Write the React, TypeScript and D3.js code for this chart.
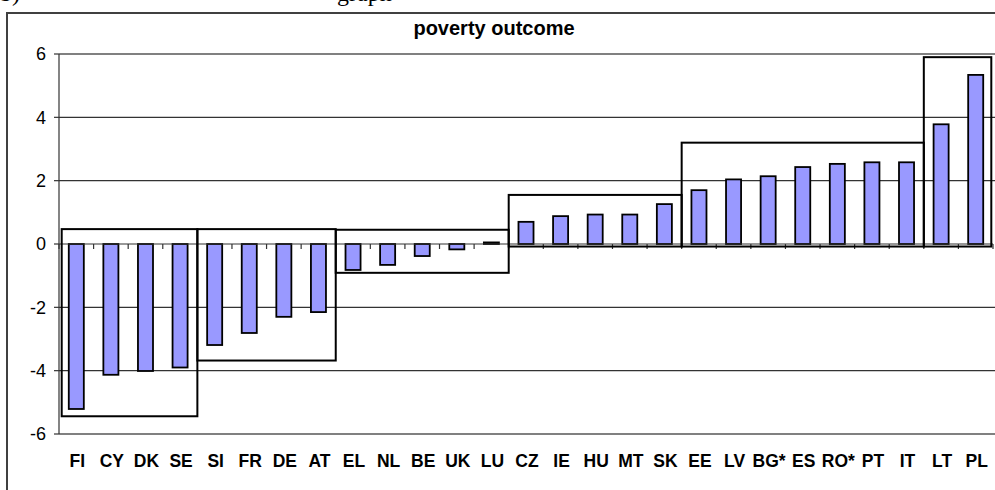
import React from "react";
import * as d3 from "d3";

const categories = ["FI","CY","DK","SE","SI","FR","DE","AT","EL","NL","BE","UK","LU","CZ","IE","HU","MT","SK","EE","LV","BG*","ES","RO*","PT","IT","LT","PL"];
const values = [-5.21,-4.13,-4.01,-3.9,-3.19,-2.81,-2.3,-2.15,-0.82,-0.66,-0.38,-0.17,0.05,0.7,0.88,0.93,0.93,1.26,1.7,2.04,2.14,2.43,2.53,2.58,2.58,3.78,5.34];
const yTicks = [-6,-4,-2,0,2,4,6];
const groupStart = [0,4,8,13,18,25];
const groupEnd = [4,8,13,18,25,27];
const groupTop = [0.47,0.47,0.45,1.55,3.2,5.9];
const groupBottom = [-5.44,-3.68,-0.91,-0.08,-0.08,-0.08];
const title = "poverty outcome";

const W = 995, H = 490;
const plotLeft = 59, plotRight = 993, plotTop = 54, plotBottom = 434;
const FONT = "'Liberation Sans', Arial, sans-serif";
const SERIF = "'Liberation Serif', 'Times New Roman', serif";

export default function App() {
  const x = d3.scaleBand<string>().domain(categories).range([plotLeft, plotRight])
    .paddingInner(1.3 / 2.3).paddingOuter(1.3 / 4.6);
  const y = d3.scaleLinear().domain([-6, 6]).range([plotBottom, plotTop]);
  const step = x.step();
  const boundary = (i: number) => plotLeft + i * step;
  const y0 = y(0);

  return (
    <svg width={W} height={H} style={{ position: "absolute", left: 0, top: 0, background: "#fff" }}>
      {/* document caption text, cropped at the top like the reference */}
      <text x={0} y={1} fontFamily={SERIF} fontSize={24}>b)</text>
      <text x={337} y={1} fontFamily={SERIF} fontSize={24}>graph</text>

      {/* chart frame */}
      <rect x={7} y={13} width={W + 20} height={H + 20} fill="none" stroke="#404040" strokeWidth={2} />

      <text x={494} y={35} textAnchor="middle" fontFamily={FONT} fontWeight="bold" fontSize={20}>{title}</text>

      {/* gridlines */}
      {yTicks.filter(t => t !== 0 && Math.abs(t) !== 6).map(t => (
        <line key={"g" + t} x1={plotLeft} x2={W} y1={y(t)} y2={y(t)} stroke="#333" strokeWidth={1.2} />
      ))}
      {[6, -6].map(t => (
        <line key={"b" + t} x1={plotLeft} x2={W} y1={y(t)} y2={y(t)} stroke="#808080" strokeWidth={1.8} />
      ))}

      {/* y axis */}
      <line x1={plotLeft} x2={plotLeft} y1={plotTop} y2={plotBottom} stroke="#333" strokeWidth={1.2} />
      {yTicks.map(t => (
        <g key={"t" + t}>
          <line x1={plotLeft - 5} x2={plotLeft} y1={y(t)} y2={y(t)} stroke="#333" strokeWidth={1.2} />
          <text x={46} y={y(t) + 6.4} textAnchor="end" fontFamily={FONT} fontSize={18}>{t}</text>
        </g>
      ))}

      {/* bars */}
      {categories.map((c, i) => {
        const v = values[i];
        const top = y(Math.max(0, v));
        const h = Math.abs(y(v) - y0);
        return (
          <rect key={c} x={x(c)} y={top} width={x.bandwidth()} height={Math.max(h, 0.5)}
            fill="#9999FF" stroke="#000" strokeWidth={1.8} />
        );
      })}

      {/* zero axis with ticks */}
      <line x1={plotLeft} x2={plotRight} y1={y0} y2={y0} stroke="#333" strokeWidth={1.2} />
      {d3.range(categories.length + 1).map(i => (
        <line key={"ct" + i} x1={boundary(i)} x2={boundary(i)} y1={y0} y2={y0 + 5} stroke="#333" strokeWidth={1.2} />
      ))}

      {/* group boxes */}
      {groupStart.map((s, k) => {
        const left = boundary(s) + (s === 0 ? 2.7 : 0);
        const right = boundary(groupEnd[k]) - (groupEnd[k] === categories.length ? 1.7 : 0);
        return (
          <rect key={"grp" + k} x={left} y={y(groupTop[k])} width={right - left}
            height={y(groupBottom[k]) - y(groupTop[k])} fill="none" stroke="#000" strokeWidth={2} />
        );
      })}

      {/* category labels */}
      {categories.map(c => (
        <text key={"l" + c} x={(x(c) as number) + x.bandwidth() / 2 + 1} y={467} textAnchor="middle"
          fontFamily={FONT} fontWeight="bold" fontSize={17.5}>{c}</text>
      ))}
    </svg>
  );
}
